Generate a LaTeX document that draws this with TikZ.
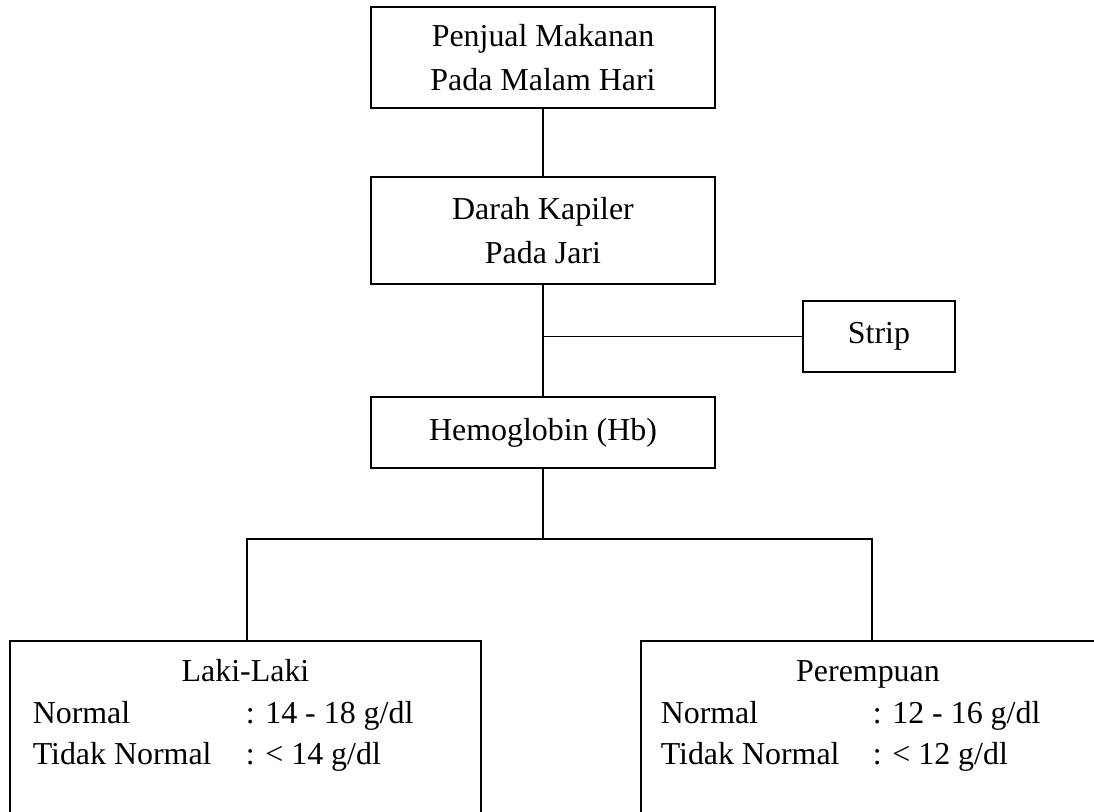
\documentclass[tikz,border=0pt]{standalone}
\usepackage{fontspec}
\setmainfont{Liberation Serif}
\usetikzlibrary{positioning}
\begin{document}
\begin{tikzpicture}[x=0.025cm,y=-0.025cm,line width=1.1pt,font=\fontsize{22.7}{31.2}\selectfont]
\tikzstyle{box} = [rectangle, draw, align=center, inner sep=0pt]
\tikzstyle{rows} = [anchor=base west, inner sep=0pt, font=\fontsize{22.7}{29.8}\selectfont]
\useasboundingbox (0,0) rectangle (1094,811);
\clip (0,0) rectangle (1094,811);

\node[box, minimum width=8.6cm, minimum height=2.525cm] (penjual) at (543,57.5) {Penjual Makanan\\Pada Malam Hari};
\node[box, minimum width=8.6cm, minimum height=2.675cm] (darah) at (543,230.5) {Darah Kapiler\\Pada Jari};
\node[box, minimum width=3.8cm, minimum height=1.775cm] (strip) at (879,336.5) {Strip};
\node[box, minimum width=8.6cm, minimum height=1.775cm] (hb) at (543,432.5) {Hemoglobin (Hb)};

\draw (penjual) -- (darah);
\draw (darah) -- (hb);
\coordinate (simpang) at (darah.south |- strip.west);
\draw (simpang) -- (strip);

% laki-laki
\node[box, minimum width=11.775cm, minimum height=5cm] (lkbox) at (245.5,741) {};
\node[anchor=base, inner sep=0pt] (lk) at (245.5,681) {Laki-Laki};
\node[rows] (lkrows) at (32,723) {\begin{tabular}[t]{@{}p{5.325cm}@{}l@{}}
Normal & : 14 - 18 g/dl\\
Tidak Normal & : < 14 g/dl
\end{tabular}};

% perempuan
\node[box, minimum width=11.475cm, minimum height=5cm] (prbox) at (870.5,741) {};
\node[anchor=base, inner sep=0pt] (pr) at (868,681) {Perempuan};
\node[rows] (prrows) at (660,723) {\begin{tabular}[t]{@{}p{5.3cm}@{}l@{}}
Normal & : 12 - 16 g/dl\\
Tidak Normal & : < 12 g/dl
\end{tabular}};

\coordinate (cabang) at (543,539);
\coordinate (kiri) at (247,539);
\coordinate (kanan) at (872,539);
\draw (hb) -- (cabang);
\draw (kiri |- lkbox.north) -- (kiri) -- (kanan) -- (kanan |- prbox.north);

\end{tikzpicture}
\end{document}
